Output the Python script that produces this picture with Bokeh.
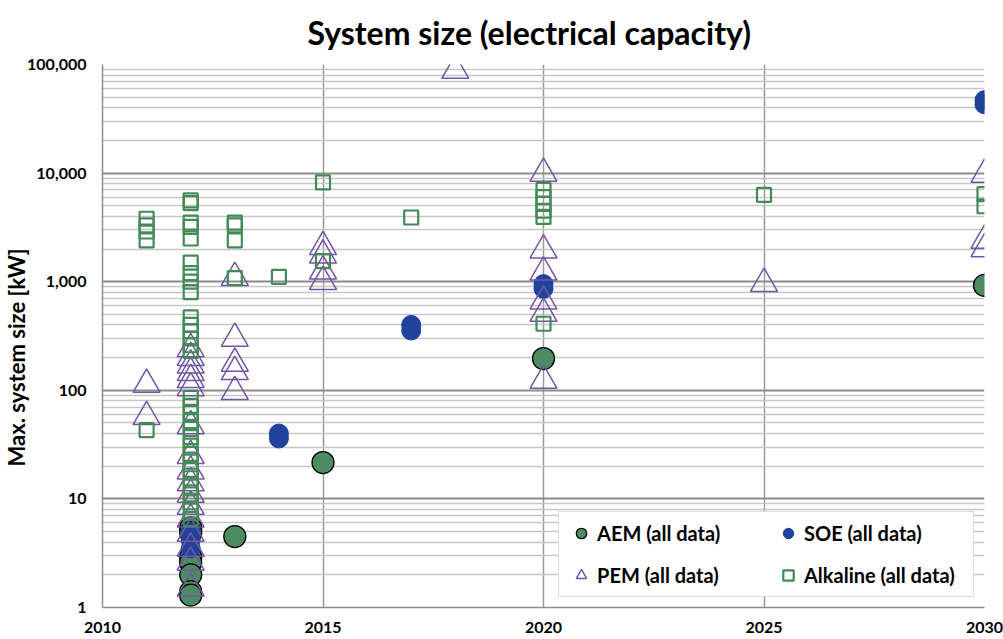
from bokeh.plotting import figure
from bokeh.models import Range1d, FixedTicker, NumeralTickFormatter, Legend, LegendItem, Title
from bokeh.embed import file_html
from bokeh.resources import INLINE

# ---- data ----
aem_year = [2012, 2012, 2012, 2012, 2012, 2012, 2012, 2013, 2015, 2020, 2030]
aem_kw = [5.4, 4.9, 2.9, 2.6, 2.0, 1.4, 1.3, 4.5, 21.6, 196, 925]

soe_year = [2012, 2012, 2012, 2014, 2014, 2017, 2017, 2020, 2020, 2030, 2030]
soe_kw = [5.0, 4.2, 3.5, 40, 36, 400, 355, 950, 860, 47000, 43000]

pem_year = [2011, 2011,
            2012, 2012, 2012, 2012, 2012, 2012, 2012, 2012, 2012, 2012, 2012,
            2012, 2012, 2012, 2012, 2012, 2012,
            2013, 2013, 2013, 2013, 2013,
            2015, 2015, 2015, 2015,
            2018,
            2020, 2020, 2020, 2020, 2020, 2020,
            2025,
            2030, 2030, 2030]
pem_kw = [113, 57,
          240, 200, 170, 145, 125, 105, 47, 25, 18, 14, 11,
          8.5, 6.5, 4.8, 3.5, 2.6, 1.5,
          1090, 300, 177, 148, 97,
          2100, 1750, 1250, 1000,
          88000,
          9900, 1950, 1220, 660, 510, 123,
          960,
          9700, 2400, 2000]

alk_year = [2011, 2011, 2011, 2011, 2011,
            2012, 2012, 2012, 2012, 2012, 2012, 2012, 2012, 2012,
            2012, 2012, 2012, 2012, 2012, 2012,
            2012, 2012, 2012, 2012, 2012, 2012, 2012, 2012,
            2012, 2012, 2012, 2012, 2012, 2012, 2012, 2012,
            2013, 2013, 2013, 2013,
            2014,
            2015, 2015,
            2017,
            2020, 2020, 2020, 2020, 2020, 2020,
            2025,
            2030, 2030]
alk_kw = [3800, 3300, 2900, 2400, 43,
          5600, 5300, 3500, 3200, 2500, 1500, 1200, 1000, 800,
          470, 400, 350, 300, 260, 230,
          85, 72, 62, 52, 44, 37, 31, 26,
          22, 18.5, 15.5, 13, 11, 9.3, 7.8, 6.5,
          3500, 3300, 2400, 1080,
          1110,
          8200, 1550,
          3900,
          7000, 6000, 5200, 4500, 3950, 410,
          6300,
          6400, 4950]

y_ticks = [1, 10, 100, 1000, 10000, 100000]
x_ticks = [2010, 2015, 2020, 2025, 2030]

FONT = "Lato"

p = figure(width=1003, height=639, y_axis_type="log",
           x_range=Range1d(2010, 2030), y_range=Range1d(1, 100000),
           output_backend="svg", toolbar_location=None,
           min_border_left=102, min_border_right=19,
           min_border_top=64, min_border_bottom=32,
           title="System size (electrical capacity)")

p.outline_line_color = None
p.background_fill_color = "white"
p.border_fill_color = "white"

# title
p.title.text_font = FONT
p.title.text_font_size = "32px"
p.title.text_font_style = "bold"
p.title.text_color = "black"
p.title.align = "left"
p.title.offset = 205
p.title.vertical_align = "top"
p.title.standoff = 22

# axes / ticks
minor = [m * 10 ** e for e in range(5) for m in range(2, 10)]
yt = FixedTicker(ticks=y_ticks, minor_ticks=minor)
p.yaxis.ticker = yt
p.ygrid.ticker = yt
p.yaxis.formatter = NumeralTickFormatter(format="0,0")
xt = FixedTicker(ticks=x_ticks)
p.xaxis.ticker = xt
p.xgrid.ticker = FixedTicker(ticks=[2015, 2020, 2025, 2030])

for ax in (p.xaxis, p.yaxis):
    ax.major_tick_line_color = None
    ax.minor_tick_line_color = None
    ax.major_tick_out = 0
    ax.major_tick_in = 0
    ax.minor_tick_out = 0
    ax.axis_line_color = "#8c8c8c"
    ax.axis_line_width = 1.5
    ax.major_label_text_font = FONT
    ax.major_label_text_font_style = "bold"
    ax.major_label_text_font_size = "16px"
    ax.major_label_text_color = "black"

p.yaxis.major_label_standoff = 16
p.xaxis.major_label_standoff = 14

# y-axis title as a left-side title (lets it sit a bit below the frame centre)
ytitle = Title(text="Max. system size [kW]", align="left", offset=141,
               standoff=-11, text_font=FONT, text_font_style="bold",
               text_font_size="22px", text_color="black")
p.add_layout(ytitle, "left")

p.ygrid.grid_line_color = "#8c8c8c"
p.ygrid.grid_line_width = 1.8
p.ygrid.minor_grid_line_color = "#c6c6c6"
p.ygrid.minor_grid_line_width = 1.5
p.xgrid.grid_line_color = "#9a9a9a"
p.xgrid.grid_line_width = 1.5

# markers
r_aem = p.scatter(aem_year, aem_kw, marker="circle", size=22,
                  fill_color="#4e8b62", line_color="black", line_width=1.3)
r_soe = p.scatter(soe_year, soe_kw, marker="circle", size=19,
                  fill_color="#1f429c", line_color="#1f429c", line_width=1)
r_pem = p.scatter(pem_year, pem_kw, marker="triangle", size=27,
                  fill_color=None, line_color="#7356a3", line_width=1.5)
r_alk = p.scatter(alk_year, alk_kw, marker="square", size=14,
                  fill_color=None, line_color="#438a58", line_width=2.2)

legend = Legend(items=[
    LegendItem(label="AEM (all data)", renderers=[r_aem]),
    LegendItem(label="SOE (all data)", renderers=[r_soe]),
    LegendItem(label="PEM (all data)", renderers=[r_pem]),
    LegendItem(label="Alkaline (all data)", renderers=[r_alk]),
], location=(456, 10), orientation="horizontal", ncols=2)
legend.margin = 0
legend.padding = 8
legend.spacing = 16
legend.glyph_width = 28
legend.glyph_height = 26
legend.label_standoff = 2
legend.label_width = 161
legend.label_height = 26
legend.label_text_font = FONT
legend.label_text_font_style = "bold"
legend.label_text_font_size = "20px"
legend.label_text_color = "black"
legend.border_line_color = "#bdbdbd"
legend.border_line_width = 1.5
legend.background_fill_color = "white"
legend.background_fill_alpha = 1.0
p.add_layout(legend, "center")

open("out.html", "w").write(file_html(p, INLINE))
